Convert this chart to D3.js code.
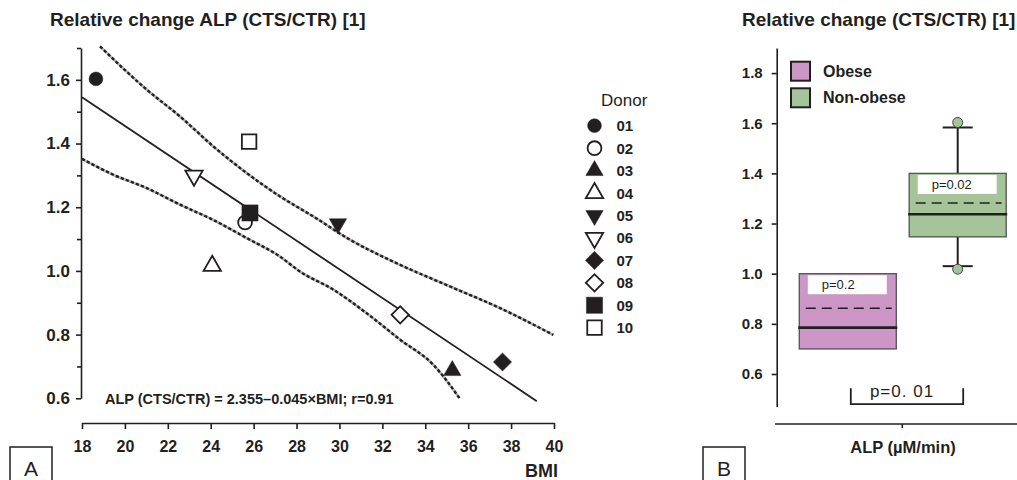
<!DOCTYPE html>
<html>
<head>
<meta charset="utf-8">
<script src="https://cdn.jsdelivr.net/npm/d3@7"></script>
<style>
  body { margin: 0; background: #fff; }
  svg { display: block; font-family: "Liberation Sans", Arial, sans-serif; }
  .axis path, .axis line { stroke: #231f20; stroke-width: 1.6; }
  .axis text { fill: #231f20; font-weight: bold; }
</style>
</head>
<body>
<div id="chart"></div>
<script>
// ---- Panel A data ----
const donors = ["01", "02", "03", "04", "05", "06", "07", "08", "09", "10"];
const donorBmi = [18.65, 25.6, 35.26, 24.07, 29.93, 23.22, 37.6, 32.83, 25.83, 25.79];
const donorAlp = [1.603, 1.152, 0.687, 1.016, 1.148, 1.299, 0.714, 0.862, 1.182, 1.406];
const bmiTicks = [18, 20, 22, 24, 26, 28, 30, 32, 34, 36, 38, 40];
const alpTicksA = [0.6, 0.8, 1.0, 1.2, 1.4, 1.6];
const alpMinorA = [0.7, 0.9, 1.1, 1.3, 1.5, 1.7];
// regression line end points (ALP = 2.355 - 0.045*BMI)
const regBmi = [18, 39.2];
const regAlp = [1.545, 0.591];
// confidence bands
const upperBmi = [18.84, 21.02, 22.57, 24.12, 25.68, 27.23, 28.78, 30.49, 32.83, 35.16, 37.49, 39.97];
const upperAlp = [1.705, 1.569, 1.485, 1.391, 1.307, 1.234, 1.171, 1.098, 1.019, 0.951, 0.883, 0.799];
const lowerBmi = [18.0, 19.46, 21.02, 22.57, 24.12, 25.68, 27.23, 28.16, 29.72, 31.27, 32.83, 34.38, 35.59];
const lowerAlp = [1.352, 1.302, 1.260, 1.208, 1.160, 1.103, 1.045, 0.998, 0.941, 0.867, 0.784, 0.705, 0.601];

// ---- Panel B data ----
const groups = ["Obese", "Non-obese"];
const groupColors = ["#cc96c6", "#a5c49a"];
const boxQ1 = [0.70, 1.147];
const boxQ3 = [1.00, 1.40];
const boxMedian = [0.785, 1.237];
const boxMean = [0.862, 1.282];
const whiskerLow = [null, 1.030];
const whiskerHigh = [null, 1.583];
const outliers = [[], [1.603, 1.018]];
const pLabels = ["p=0.2", "p=0.02"];
const alpTicksB = [0.6, 0.8, 1.0, 1.2, 1.4, 1.6, 1.8];

const svg = d3.select("#chart").append("svg")
  .attr("width", 1017)
  .attr("height", 480);

const ink = "#231f20";

// ================= Panel A =================
const xA = d3.scaleLinear().domain([18, 40]).range([82, 554]);
const yA = d3.scaleLinear().domain([0.6, 1.7]).range([398.3, 48]);

svg.append("text")
  .attr("x", 50).attr("y", 26)
  .attr("font-size", 19).attr("font-weight", "bold").attr("fill", ink)
  .text("Relative change ALP (CTS/CTR) [1]");

// y axis
svg.append("g").attr("class", "axis")
  .attr("transform", "translate(81,0)")
  .call(d3.axisLeft(yA).tickValues(alpTicksA).tickFormat(d3.format(".1f"))
    .tickSize(5).tickPadding(6).tickSizeOuter(0))
  .call(g => g.selectAll("text").attr("font-size", 17));
svg.append("g").attr("class", "axis")
  .attr("transform", "translate(81,0)")
  .call(d3.axisLeft(yA).tickValues(alpMinorA).tickFormat("").tickSize(4).tickSizeOuter(0))
  .call(g => g.select(".domain").remove());

// x axis
svg.append("g").attr("class", "axis")
  .attr("transform", "translate(0,423)")
  .call(d3.axisBottom(xA).tickValues(bmiTicks).tickSize(6).tickPadding(12).tickSizeOuter(0))
  .call(g => g.selectAll("text").attr("font-size", 16));

svg.append("text")
  .attr("x", 558).attr("y", 477).attr("text-anchor", "end")
  .attr("font-size", 18).attr("font-weight", "bold").attr("fill", ink)
  .text("BMI");

// bands
const line = d3.line().x(d => xA(d[0])).y(d => yA(d[1])).curve(d3.curveMonotoneX);
[d3.zip(upperBmi, upperAlp), d3.zip(lowerBmi, lowerAlp)].forEach(band => {
  svg.append("path").datum(band).attr("d", line)
    .attr("fill", "none").attr("stroke", "#b0b0b0").attr("stroke-width", 2.6);
  svg.append("path").datum(band).attr("d", line)
    .attr("fill", "none").attr("stroke", ink).attr("stroke-width", 2.4)
    .attr("stroke-dasharray", "3.2,2.2");
});

// regression line
svg.append("path").datum(d3.zip(regBmi, regAlp)).attr("d", d3.line().x(d => xA(d[0])).y(d => yA(d[1])))
  .attr("fill", "none").attr("stroke", ink).attr("stroke-width", 1.8);

// symbols
const symbolDefs = [
  { type: d3.symbolCircle, size: 150, filled: true, rot: 0 },
  { type: d3.symbolCircle, size: 150, filled: false, rot: 0 },
  { type: d3.symbolTriangle, size: 130, filled: true, rot: 0 },
  { type: d3.symbolTriangle, size: 130, filled: false, rot: 0 },
  { type: d3.symbolTriangle, size: 130, filled: true, rot: 180 },
  { type: d3.symbolTriangle, size: 130, filled: false, rot: 180 },
  { type: d3.symbolSquare, size: 165, filled: true, rot: 45 },
  { type: d3.symbolSquare, size: 150, filled: false, rot: 45 },
  { type: d3.symbolSquare, size: 260, filled: true, rot: 0 },
  { type: d3.symbolSquare, size: 210, filled: false, rot: 0 }
];

function drawSymbol(g, i, x, y) {
  const s = symbolDefs[i];
  g.append("path")
    .attr("d", d3.symbol().type(s.type).size(s.size)())
    .attr("transform", `translate(${x},${y}) rotate(${s.rot})`)
    .attr("fill", s.filled ? ink : "#fff")
    .attr("stroke", ink)
    .attr("stroke-width", s.filled ? 0.5 : 1.8);
}

const pts = svg.append("g");
donors.forEach((d, i) => drawSymbol(pts, i, xA(donorBmi[i]), yA(donorAlp[i])));

svg.append("text")
  .attr("x", 105).attr("y", 404)
  .attr("font-size", 14.5).attr("font-weight", "bold").attr("fill", ink)
  .text("ALP (CTS/CTR) = 2.355\u20130.045\u00d7BMI; r=0.91");

// legend
const legendRow = d3.scalePoint().domain(donors).range([125.7, 327.7]);
svg.append("text")
  .attr("x", 601).attr("y", 106)
  .attr("font-size", 17).attr("fill", ink)
  .text("Donor");
const leg = svg.append("g");
donors.forEach((d, i) => {
  drawSymbol(leg, i, 594.5, legendRow(d));
  leg.append("text")
    .attr("x", 616.5).attr("y", legendRow(d) + 5.5)
    .attr("font-size", 15).attr("font-weight", "bold").attr("fill", ink)
    .text(d);
});

// panel tag A
svg.append("rect").attr("x", 10).attr("y", 447).attr("width", 42).attr("height", 45)
  .attr("fill", "none").attr("stroke", ink).attr("stroke-width", 1.5);
svg.append("text").attr("x", 31).attr("y", 476).attr("text-anchor", "middle")
  .attr("font-size", 21).attr("fill", ink).text("A");

// ================= Panel B =================
const yB = d3.scaleLinear().domain([0.47, 1.9]).range([406.6, 48]);
const xB = d3.scalePoint().domain(groups).range([847.8, 957.7]);
const boxW = 97;

svg.append("text")
  .attr("x", 742).attr("y", 26)
  .attr("font-size", 19).attr("font-weight", "bold").attr("fill", ink)
  .text("Relative change (CTS/CTR) [1]");

svg.append("g").attr("class", "axis")
  .attr("transform", "translate(776.7,0)")
  .call(d3.axisLeft(yB).tickValues(alpTicksB).tickFormat(d3.format(".1f"))
    .tickSize(5).tickPadding(9).tickSizeOuter(0))
  .call(g => g.selectAll("text").attr("font-size", 15));

// x axis line with single tick
const xAxisB = svg.append("g").attr("class", "axis");
xAxisB.append("line").attr("x1", 775).attr("x2", 1017).attr("y1", 424).attr("y2", 424);
xAxisB.append("line").attr("x1", 902.3).attr("x2", 902.3).attr("y1", 424).attr("y2", 428);
svg.append("text")
  .attr("x", 903).attr("y", 453).attr("text-anchor", "middle")
  .attr("font-size", 16.5).attr("font-weight", "bold").attr("fill", ink)
  .text("ALP (\u00b5M/min)");

// legend B
groups.forEach((g, i) => {
  const y = 61.7 + i * 26.6;
  svg.append("rect").attr("x", 791).attr("y", y).attr("width", 19).attr("height", 19)
    .attr("fill", groupColors[i]).attr("stroke", ink).attr("stroke-width", 2);
  svg.append("text").attr("x", 823).attr("y", y + 15)
    .attr("font-size", 16).attr("font-weight", "bold").attr("fill", ink).text(g);
});

// boxes
groups.forEach((g, i) => {
  const cx = xB(g);
  const gg = svg.append("g");
  if (whiskerHigh[i] !== null) {
    gg.append("line").attr("x1", cx).attr("x2", cx)
      .attr("y1", yB(boxQ3[i])).attr("y2", yB(whiskerHigh[i]))
      .attr("stroke", ink).attr("stroke-width", 2);
    gg.append("line").attr("x1", cx - 15).attr("x2", cx + 15)
      .attr("y1", yB(whiskerHigh[i])).attr("y2", yB(whiskerHigh[i]))
      .attr("stroke", ink).attr("stroke-width", 2);
  }
  if (whiskerLow[i] !== null) {
    gg.append("line").attr("x1", cx).attr("x2", cx)
      .attr("y1", yB(boxQ1[i])).attr("y2", yB(whiskerLow[i]))
      .attr("stroke", ink).attr("stroke-width", 2);
    gg.append("line").attr("x1", cx - 15).attr("x2", cx + 15)
      .attr("y1", yB(whiskerLow[i])).attr("y2", yB(whiskerLow[i]))
      .attr("stroke", ink).attr("stroke-width", 2);
  }
  gg.append("rect")
    .attr("x", cx - boxW / 2).attr("y", yB(boxQ3[i]))
    .attr("width", boxW).attr("height", yB(boxQ1[i]) - yB(boxQ3[i]))
    .attr("fill", groupColors[i]).attr("stroke", "#5a5a5a").attr("stroke-width", 1.4);
  gg.append("rect")
    .attr("x", cx - 40).attr("y", yB(boxQ3[i]) + 1.5)
    .attr("width", 79).attr("height", 19)
    .attr("fill", "#fff");
  gg.append("text")
    .attr("x", cx - 26).attr("y", yB(boxQ3[i]) + 15.5)
    .attr("font-size", 13).attr("fill", ink).text(pLabels[i]);
  gg.append("line")
    .attr("x1", cx - 42).attr("x2", cx + 44)
    .attr("y1", yB(boxMean[i])).attr("y2", yB(boxMean[i]))
    .attr("stroke", ink).attr("stroke-width", 1.5).attr("stroke-dasharray", "10,6");
  gg.append("line")
    .attr("x1", cx - boxW / 2 - 1).attr("x2", cx + boxW / 2 + 1)
    .attr("y1", yB(boxMedian[i])).attr("y2", yB(boxMedian[i]))
    .attr("stroke", ink).attr("stroke-width", 2.6);
  outliers[i].forEach(v => {
    gg.append("circle").attr("cx", cx).attr("cy", yB(v)).attr("r", 5)
      .attr("fill", groupColors[i]).attr("stroke", "#444").attr("stroke-width", 1);
  });
});

// significance bracket
const bTop = 0.543, bBottom = 0.48;
svg.append("path")
  .attr("d", d3.line()([
    [xB("Obese") + 3, yB(bTop)], [xB("Obese") + 3, yB(bBottom)],
    [xB("Non-obese") + 5.5, yB(bBottom)], [xB("Non-obese") + 5.5, yB(bTop)]
  ]))
  .attr("fill", "none").attr("stroke", ink).attr("stroke-width", 1.8);
svg.append("text")
  .attr("x", 902).attr("y", 397).attr("text-anchor", "middle")
  .attr("font-size", 17).attr("letter-spacing", 1).attr("fill", ink)
  .text("p=0. 01");

// panel tag B
svg.append("rect").attr("x", 703).attr("y", 447).attr("width", 42).attr("height", 45)
  .attr("fill", "none").attr("stroke", ink).attr("stroke-width", 1.5);
svg.append("text").attr("x", 724).attr("y", 476).attr("text-anchor", "middle")
  .attr("font-size", 21).attr("fill", ink).text("B");
</script>
</body>
</html>
